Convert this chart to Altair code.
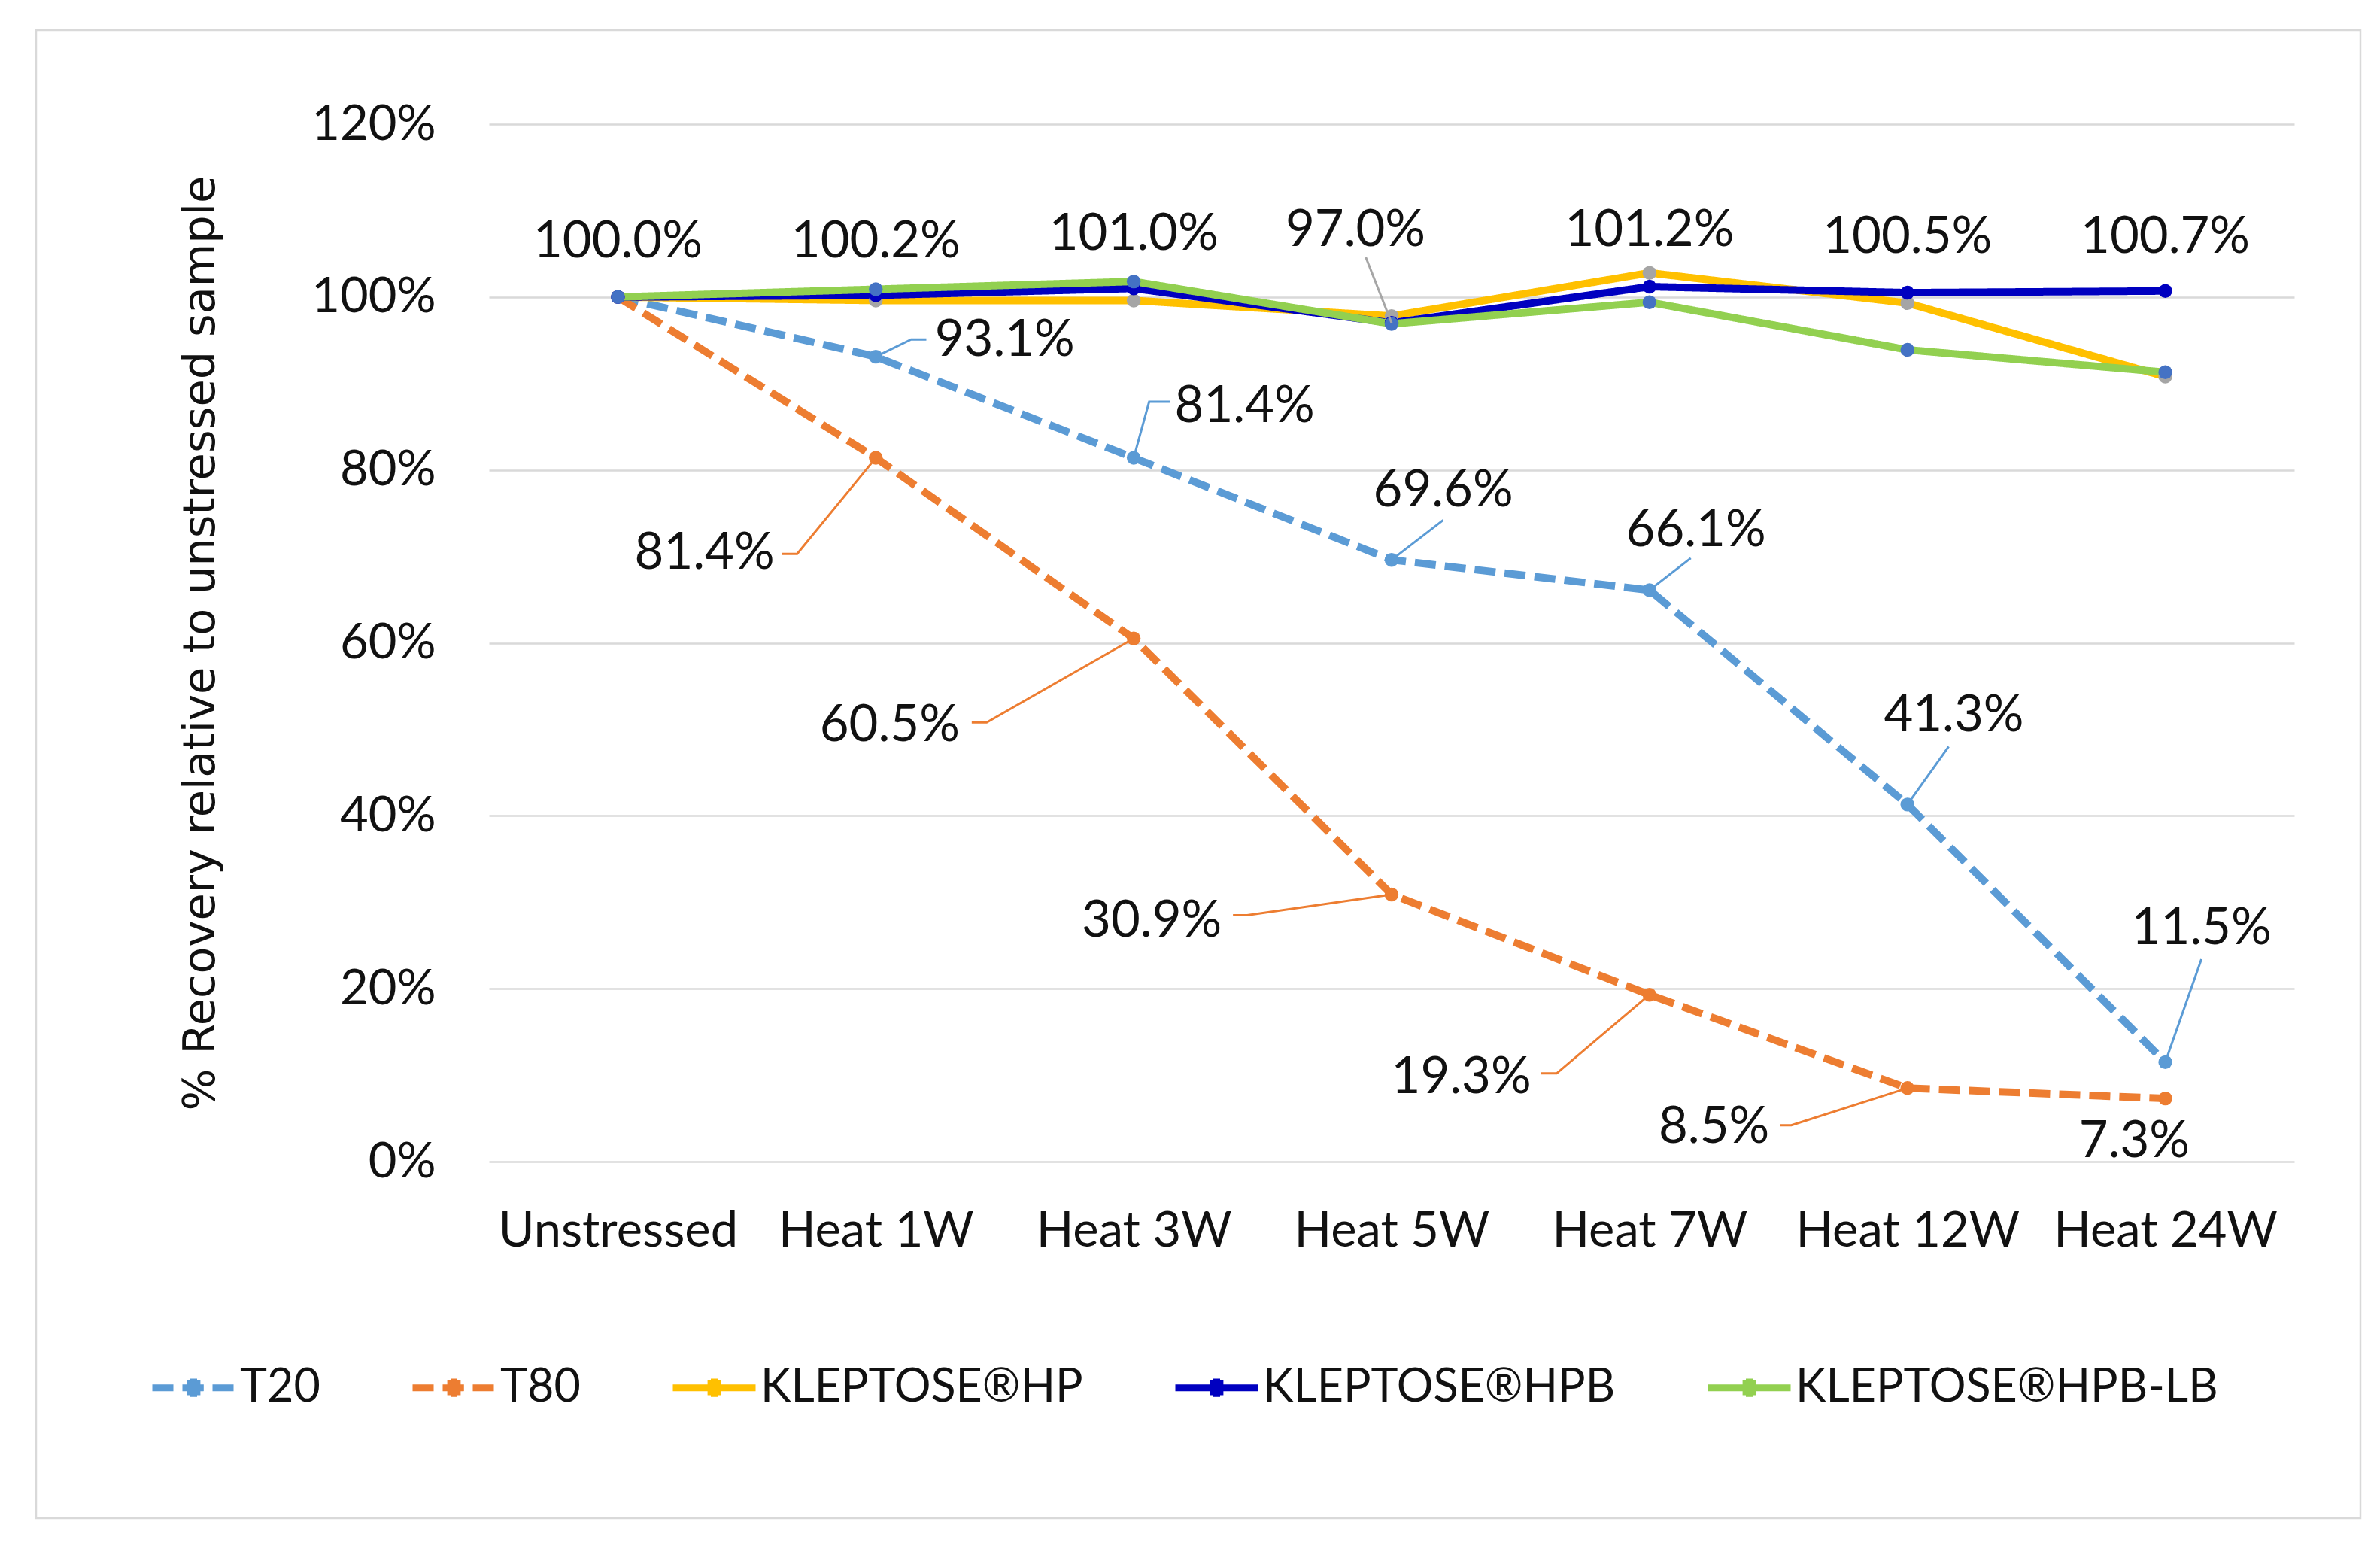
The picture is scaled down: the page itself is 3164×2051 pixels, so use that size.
import json
import altair as alt
import pandas as pd

# ---------------- data ----------------
categories = ["Unstressed", "Heat 1W", "Heat 3W", "Heat 5W", "Heat 7W", "Heat 12W", "Heat 24W"]
series_names = ["T20", "T80", "KLEPTOSE®HP", "KLEPTOSE®HPB", "KLEPTOSE®HPB-LB"]

t20 = [100.0, 93.1, 81.4, 69.6, 66.1, 41.3, 11.5]
t80 = [100.0, 81.4, 60.5, 30.9, 19.3, 8.5, 7.3]
hp = [100.0, 99.6, 99.6, 97.8, 102.8, 99.3, 90.8]
hpb = [100.0, 100.2, 101.0, 97.0, 101.2, 100.5, 100.7]
hpb_lb = [100.0, 100.9, 101.8, 96.9, 99.4, 93.9, 91.3]

# data label anchors (category index, % value)
hpb_label_x = [0, 1, 2, 2.86, 4, 5, 6]
hpb_label_y = [106.3, 106.3, 107.2, 107.6, 107.6, 106.9, 106.9]
t20_label_x = [1.50, 2.43, 3.20, 4.18, 5.18, 6.14]
t20_label_y = [94.9, 87.3, 77.5, 72.9, 51.5, 26.9]
t80_label_x = [0.336, 1.054, 2.07, 3.27, 4.25, 5.88]
t80_label_y = [70.3, 50.4, 27.8, 9.7, 3.9, 2.3]

# leader lines: series, vertices (category index, % value)
leaders = [
    ("T20", [(1, 93.1), (1.137, 95.1), (1.196, 95.1)]),
    ("T20", [(2, 81.4), (2.06, 87.9), (2.14, 87.9)]),
    ("T20", [(3, 69.6), (3.20, 74.2)]),
    ("T20", [(4, 66.1), (4.16, 69.8)]),
    ("T20", [(5, 41.3), (5.16, 48.0)]),
    ("T20", [(6, 11.5), (6.14, 23.4)]),
    ("T80", [(1, 81.4), (0.695, 70.3), (0.636, 70.3)]),
    ("T80", [(2, 60.5), (1.43, 50.8), (1.372, 50.8)]),
    ("T80", [(3, 30.9), (2.44, 28.5), (2.385, 28.5)]),
    ("T80", [(4, 19.3), (3.64, 10.2), (3.58, 10.2)]),
    ("T80", [(5, 8.5), (4.55, 4.2), (4.505, 4.2)]),
    ("KLEPTOSE®HPB", [(3, 97.0), (2.90, 104.6)]),
]

# ---------------- styles ----------------
line_colors = ["#5B9BD5", "#ED7D31", "#FFC000", "#0000C0", "#92D050"]
marker_colors = {"T20": "#5B9BD5", "T80": "#ED7D31", "KLEPTOSE®HP": "#A5A5A5",
                 "KLEPTOSE®HPB": "#0000C0", "KLEPTOSE®HPB-LB": "#4472C4"}
leader_colors = {"T20": "#5B9BD5", "T80": "#ED7D31", "KLEPTOSE®HPB": "#A6A6A6"}
dashes = [[28, 12], [28, 12], [1, 0], [1, 0], [1, 0]]
FONT = "Lato"
TXT = "#111111"

W, H = 2400, 1379

# ---------------- tables ----------------
all_series = [t20, t80, hp, hpb, hpb_lb]
rows = []
for name, vals in zip(series_names, all_series):
    for i, v in enumerate(vals):
        rows.append({"series": name, "xi": i, "value": v, "mcol": marker_colors[name]})
df = pd.DataFrame(rows)

lab_rows = []
for i in range(7):
    lab_rows.append({"lx": hpb_label_x[i], "ly": hpb_label_y[i], "text": f"{hpb[i]:.1f}%"})
for i in range(6):
    lab_rows.append({"lx": t20_label_x[i], "ly": t20_label_y[i], "text": f"{t20[i + 1]:.1f}%"})
    lab_rows.append({"lx": t80_label_x[i], "ly": t80_label_y[i], "text": f"{t80[i + 1]:.1f}%"})
df_lab = pd.DataFrame(lab_rows)

ld_rows = []
for k, (s, pts) in enumerate(leaders):
    for j, (x, y) in enumerate(pts):
        ld_rows.append({"id": k, "ord": j, "x": x, "y": y, "col": leader_colors[s]})
df_ld = pd.DataFrame(ld_rows)

# ---------------- scales / axes ----------------
label_expr = json.dumps(categories) + "[round(datum.value)]"
x_scale = alt.Scale(domain=[-0.5, 6.5], nice=False, zero=False)
y_scale = alt.Scale(domain=[0, 120], nice=False)

x_axis = alt.Axis(values=list(range(7)), labelExpr=label_expr, grid=False, domain=False,
                  ticks=False, labelFont=FONT, labelFontSize=65, labelColor=TXT,
                  labelPadding=92, labelBaseline="middle", title=None, labelFlush=False,
                  labelLimit=1000, labelOverlap=False)
y_axis = alt.Axis(values=list(range(0, 121, 20)), labelExpr="datum.value + '%'",
                  grid=True, gridColor="#D9D9D9", gridWidth=2.5, domain=False, ticks=False,
                  labelFont=FONT, labelFontSize=65, labelColor=TXT, labelPadding=71,
                  title="% Recovery relative to unstressed sample", titleFont="DejaVu Sans",
                  titleFontSize=59, titleFontWeight="normal", titleColor=TXT,
                  titleX=-366, titleY=H / 2, titleAngle=270, titleAlign="center",
                  titleBaseline="alphabetic")

# legend symbol: a line with a round-ish dot in the middle (unit coordinates)
legend_path = ("M-1,0L1,0"
               "M-0.16,-0.08L-0.16,0.08"
               "M-0.08,-0.18L-0.08,0.18"
               "M0,-0.22L0,0.22"
               "M0.08,-0.18L0.08,0.18"
               "M0.16,-0.08L0.16,0.08")
legend = alt.Legend(title=None, orient="none", direction="horizontal", legendX=-452,
                    legendY=1620, symbolType=legend_path, symbolSize=12100,
                    symbolStrokeWidth=9, labelFont=FONT, labelFontSize=61, labelColor=TXT,
                    labelOffset=2, columnPadding=104, labelLimit=1000)

base = alt.Chart(df)

lines = base.mark_line(strokeWidth=10).encode(
    x=alt.X("xi:Q", scale=x_scale, axis=x_axis),
    y=alt.Y("value:Q", scale=y_scale, axis=y_axis),
    color=alt.Color("series:N", scale=alt.Scale(domain=series_names, range=line_colors),
                    sort=series_names, legend=legend),
    strokeDash=alt.StrokeDash("series:N", scale=alt.Scale(domain=series_names, range=dashes),
                              sort=series_names, legend=legend),
    detail="series:N",
)

points = base.mark_point(filled=True, size=340, opacity=1, shape="circle").encode(
    x=alt.X("xi:Q", scale=x_scale),
    y=alt.Y("value:Q", scale=y_scale),
    fill=alt.Fill("mcol:N", scale=None),
)

leader_lines = alt.Chart(df_ld).mark_line(strokeWidth=3).encode(
    x=alt.X("x:Q", scale=x_scale),
    y=alt.Y("y:Q", scale=y_scale),
    detail="id:N",
    order="ord:Q",
    color=alt.Color("col:N", scale=None),
)

labels = alt.Chart(df_lab).mark_text(font=FONT, fontSize=67, color=TXT, align="center",
                                     baseline="middle").encode(
    x=alt.X("lx:Q", scale=x_scale),
    y=alt.Y("ly:Q", scale=y_scale),
    text="text:N",
)

frame = alt.Chart(pd.DataFrame({"a": [0]})).mark_rect(
    fill="white", fillOpacity=0, stroke="#D9D9D9", strokeWidth=2.5
).encode(x=alt.value(-602), x2=alt.value(2488), y=alt.value(-125), y2=alt.value(1853))

chart = alt.layer(frame, lines, points, leader_lines, labels).properties(
    width=W, height=H,
    padding={"left": 642, "top": 157, "right": 90, "bottom": 490},
    autosize=alt.AutoSizeParams(type="none"),
    background="white",
).configure_view(strokeWidth=0, stroke="transparent")

chart.save("out.html", embed_options={"renderer": "svg", "actions": False})
